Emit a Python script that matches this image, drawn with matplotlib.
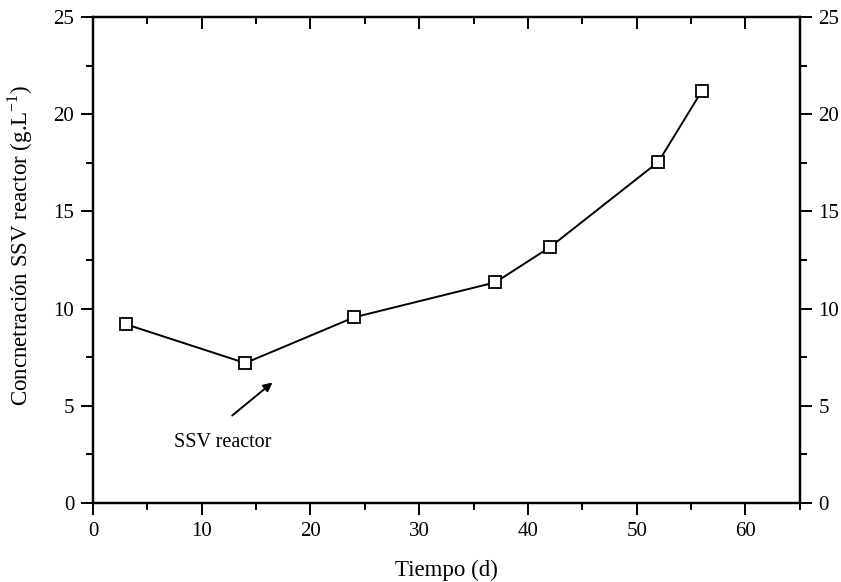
import numpy as np
import matplotlib
matplotlib.use('Agg')
import matplotlib.pyplot as plt
from matplotlib.ticker import MultipleLocator

plt.rcParams['font.family'] = ['Liberation Serif', 'DejaVu Serif']
plt.rcParams['mathtext.fontset'] = 'custom'
plt.rcParams['mathtext.rm'] = 'Liberation Serif'

# datos
tiempo = [3, 14, 24, 37, 42, 52, 56]
ssv = [9.2, 7.2, 9.55, 11.35, 13.15, 17.55, 21.2]

fig = plt.figure(figsize=(8.41, 5.82), dpi=100)
ax = fig.add_axes([0.1106, 0.1357, 0.8404, 0.8351])

ax.plot(tiempo, ssv, '-', color='black', lw=1.4, marker='s', ms=8,
        mfc='white', mec='black', mew=1.3)

ax.set_xlim(0, 65)
ax.set_ylim(0, 25)
ax.xaxis.set_major_locator(MultipleLocator(10))
ax.xaxis.set_minor_locator(MultipleLocator(5))
ax.yaxis.set_major_locator(MultipleLocator(5))
ax.yaxis.set_minor_locator(MultipleLocator(2.5))

for s in ax.spines.values():
    s.set_linewidth(1.6)

ax.tick_params(which='both', direction='out', width=1.4, labelsize=15, pad=5)
ax.tick_params(which='major', length=8.5)
ax.tick_params(which='minor', length=5)
ax.tick_params(axis='x', which='both', top=True, labeltop=False)

# eje derecho con la misma escala
ax2 = ax.twinx()
ax2.set_ylim(0, 25)
ax2.yaxis.set_major_locator(MultipleLocator(5))
ax2.yaxis.set_minor_locator(MultipleLocator(2.5))
ax2.tick_params(which='both', direction='out', width=1.4, labelsize=15, pad=5)
ax2.tick_params(which='major', length=8.5)
ax2.tick_params(which='minor', length=5)
for s in ax2.spines.values():
    s.set_linewidth(1.6)

# ticks superiores hacia adentro
for t in ax.xaxis.get_major_ticks() + ax.xaxis.get_minor_ticks():
    t.tick2line.set_marker(matplotlib.lines.TICKDOWN)

ax.set_xlabel('Tiempo (d)', fontsize=16.5, labelpad=14)
ax.set_ylabel('Concnetración SSV reactor (g.L$^{\\mathregular{-1}}$)', fontsize=16.5)
ax.yaxis.set_label_coords(-0.082, 0.531)

# anotacion
ax.text(11.9, 3.1, 'SSV reactor', ha='center', va='center', fontsize=14.5)
ax.annotate('', xy=(16.5, 6.2), xytext=(12.8, 4.5),
            arrowprops=dict(arrowstyle='-|>', color='black', lw=1.4,
                            mutation_scale=13, shrinkA=0, shrinkB=0))

fig.savefig('out.png', dpi=100)
